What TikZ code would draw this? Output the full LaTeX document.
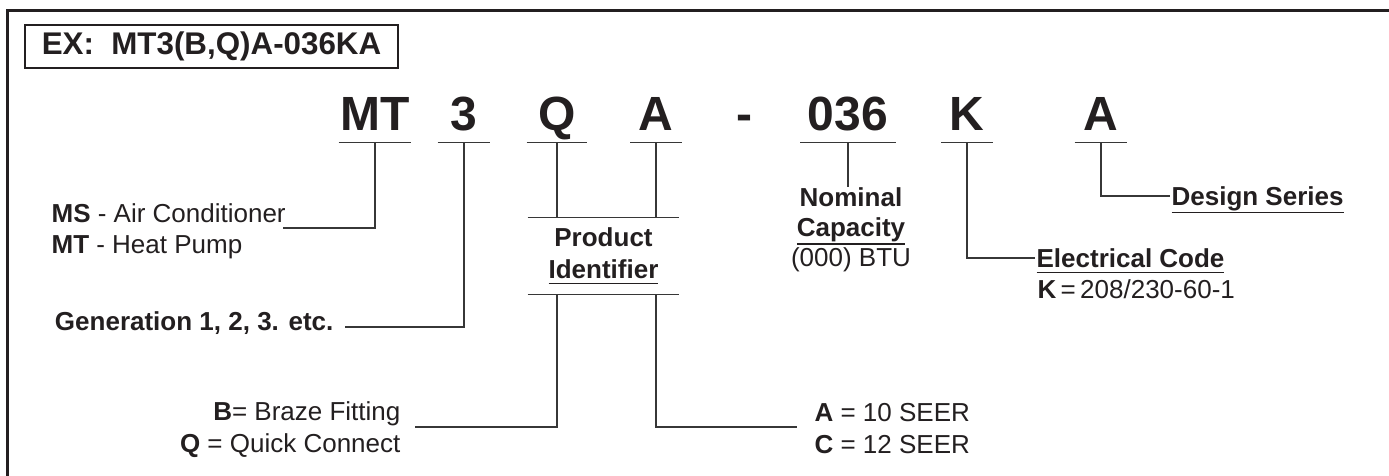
\documentclass[tikz,border=0pt]{standalone}
\usepackage{fontspec}
\setmainfont{Liberation Sans}
\usetikzlibrary{positioning}
\definecolor{inkdark}{RGB}{35,31,32}
\definecolor{linegray}{RGB}{55,55,55}
\newsavebox\undrbox
\newcommand{\undr}[2]{\sbox\undrbox{#2}\rlap{\rule[-#1]{\wd\undrbox}{1.1pt}}\usebox\undrbox}
\tikzset{
  code/.style={font=\fontsize{36}{40}\selectfont\bfseries, text=inkdark,
    inner sep=0pt, text height=26pt, text depth=9pt, anchor=base},
  lbl/.style={font=\fontsize{19.5}{23}\selectfont, text=inkdark,
    inner sep=1pt, text height=14pt, text depth=0pt},
  lblb/.style={lbl, font=\fontsize{19.5}{23}\selectfont\bfseries},
  bar/.style={draw=linegray, line width=1pt},
  wire/.style={draw=linegray, line width=1pt},
  frame/.style={draw=inkdark, line width=2.25pt}
}
\begin{document}
\begin{tikzpicture}[x=0.75pt, y=-0.75pt]
  \useasboundingbox (0,0) rectangle (1389,475);
  % Outer frame and example box
  \draw[frame] (7,480) -- (7,10) -- (1395,10);
  \node[draw=inkdark, line width=1pt, minimum width=279.75pt, minimum height=32.25pt,
    inner sep=0pt, font=\fontsize{23.5}{26}\selectfont\bfseries, text=inkdark]
    (ex) at (211.5,46.5) {EX:\ \ MT3(B,Q)A-036KA};

  % Model number characters
  \node[code, minimum width=54pt] (mt) at (375,130) {MT};
  \node[code, minimum width=39pt] (gen) at (464,130) {3};
  \node[code, minimum width=45pt] (prodq) at (557,130) {Q};
  \node[code, minimum width=38.25pt] (proda) at (656,130) {A};
  \node[code] (dash) at (744,130) {-};
  \node[code, minimum width=71.25pt] (cap) at (848,130) {036};
  \node[code, minimum width=38.25pt] (elec) at (967,130) {K};
  \node[code, minimum width=39pt] (ser) at (1101,130) {A};
  \foreach \n in {mt,gen,prodq,proda,cap,elec,ser} {
    \draw[bar] (\n.south west) -- (\n.south east);
  }

  % Unit type
  \node[lbl, anchor=base west] (ms) at (50,222) {\textbf{MS} - Air Conditioner};
  \node[lbl, anchor=base west] (mtl) at (50,253) {\textbf{MT} - Heat Pump};
  \coordinate (msend) at (283,228);
  \draw[wire] (mt.south) |- (msend);

  % Generation
  \node[lblb, anchor=base east] (genl) at (335,330) {Generation 1, 2, 3. etc.};
  \coordinate (genend) at (345,327);
  \draw[wire] (gen.south) |- (genend);

  % Product identifier
  \node[font=\fontsize{19.5}{24}\selectfont\bfseries, text=inkdark, align=center,
    inner sep=0pt, minimum width=113.25pt, minimum height=57pt]
    (prod) at (603.5,256) {Product\\\undr{4.3pt}{Identifier}};
  \draw[bar] (prod.north west) -- (prod.north east);
  \draw[bar] (prod.south west) -- (prod.south east);
  \draw[wire] (prodq.south) -- (prodq.south |- prod.north);
  \draw[wire] (proda.south) -- (proda.south |- prod.north);
  \coordinate (brzend) at (415,427);
  \coordinate (seerend) at (797,427);
  \draw[wire] (prodq.south |- prod.south) |- (brzend);
  \draw[wire] (proda.south |- prod.south) |- (seerend);
  \node[lbl, anchor=base east] (brz) at (402,420) {\textbf{B}= Braze Fitting};
  \node[lbl, anchor=base east] (qc) at (402,452) {\textbf{Q} = Quick Connect};
  \node[lbl, anchor=base west] (seera) at (813,421) {\textbf{A} = 10 SEER};
  \node[lbl, anchor=base west] (seerc) at (813,453) {\textbf{C} = 12 SEER};

  % Nominal capacity
  \node[font=\fontsize{19.5}{22.5}\selectfont, text=inkdark, align=center,
    anchor=north, inner sep=0pt] (capl) at (851,187)
    {\textbf{Nominal}\\\textbf{\undr{6.55pt}{Capacity}}\\(000) BTU};
  \draw[wire] (cap.south) -- (cap.south |- capl.north);

  % Electrical code
  \node[lblb, anchor=west] (elecl) at (1035,258) {\undr{4.3pt}{Electrical Code}};
  \node[lbl, anchor=base west] (elecv) at (1036,298) {\textbf{K}\,=\,208/230-60-1};
  \draw[wire] (elec.south) |- (elecl.west);

  % Design series
  \node[lblb, anchor=west] (serl) at (1170,196) {\undr{5.8pt}{Design Series}};
  \draw[wire] (ser.south) |- (serl.west);
\end{tikzpicture}
\end{document}
